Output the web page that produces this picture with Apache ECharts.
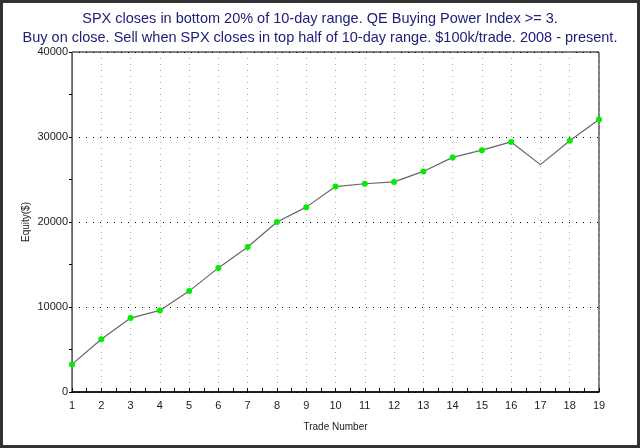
<!DOCTYPE html>
<html>
<head>
<meta charset="utf-8">
<script src="https://cdn.jsdelivr.net/npm/echarts@6/dist/echarts.min.js"></script>
<style>
  html, body { margin: 0; padding: 0; background: #fff; }
  #chart { width: 640px; height: 448px; box-sizing: border-box; border: 3px solid #333; }
</style>
</head>
<body>
<div id="chart"></div>
<script>
const titleLines = [
  'SPX closes in bottom 20% of 10-day range. QE Buying Power Index >= 3.',
  'Buy on close. Sell when SPX closes in top half of 10-day range. $100k/trade. 2008 - present.'
];
const trades = [1, 2, 3, 4, 5, 6, 7, 8, 9, 10, 11, 12, 13, 14, 15, 16, 17, 18, 19];
const equity = [3250, 6200, 8700, 9600, 11870, 14600, 17050, 20000, 21750, 24170, 24500, 24720,
  25950, 27600, 28450, 29420, 26750, 29550, 32050];
// trades drawn without a marker
const noMarker = [17];
const yTicks = [0, 10000, 20000, 30000, 40000];

const getOption = () => {
  const points = trades.map((t, i) => {
    const item = { value: [t, equity[i]] };
    if (noMarker.includes(t)) item.symbol = 'none';
    return item;
  });
  const labelFont = { fontFamily: 'Liberation Sans', fontSize: 11, color: '#222' };

  return {
    animation: false,
    backgroundColor: '#fff',
    title: {
      text: titleLines.join('\n'),
      left: 'center',
      top: 1,
      textStyle: {
        fontFamily: 'Liberation Sans',
        fontWeight: 'normal',
        fontSize: 14.5,
        lineHeight: 19,
        color: '#20207a'
      }
    },
    grid: {
      left: 69,
      right: 38,
      top: 49,
      bottom: 53,
      show: true,
      borderColor: '#000',
      borderWidth: 1
    },
    xAxis: {
      type: 'value',
      min: trades[0],
      max: trades[trades.length - 1],
      interval: 1,
      name: 'Trade Number',
      nameLocation: 'middle',
      nameGap: 30,
      nameTextStyle: { fontFamily: 'Liberation Sans', fontSize: 10, color: '#222' },
      axisLine: { lineStyle: { color: '#000', width: 1.5 } },
      axisTick: { show: true, inside: true, length: 4, lineStyle: { color: '#000' } },
      minorTick: { show: true, splitNumber: 2, length: 4, lineStyle: { color: '#000' } },
      axisLabel: Object.assign({ margin: 8 }, labelFont),
      splitLine: { show: true, lineStyle: { color: '#aaa', type: [1, 5] } }
    },
    yAxis: {
      type: 'value',
      min: yTicks[0],
      max: yTicks[yTicks.length - 1],
      interval: 10000,
      name: 'Equity($)',
      nameLocation: 'middle',
      nameGap: 41,
      nameMoveOverlap: false,
      nameTextStyle: { fontFamily: 'Liberation Sans', fontSize: 10, color: '#222' },
      axisLine: { show: true, lineStyle: { color: '#666', width: 1 } },
      axisTick: { show: true, length: 3, lineStyle: { color: '#000' } },
      minorTick: { show: true, splitNumber: 2, length: 3, lineStyle: { color: '#000' } },
      axisLabel: Object.assign({ margin: 4, formatter: (v) => String(v) }, labelFont),
      splitLine: { show: true, lineStyle: { color: '#000', type: [1, 6] } }
    },
    series: [
      {
        type: 'line',
        data: points,
        symbol: 'circle',
        symbolSize: 6,
        itemStyle: { color: '#00ee00' },
        lineStyle: { color: '#666', width: 1.2 }
      }
    ]
  };
};

const chart = echarts.init(document.getElementById('chart'));
chart.setOption(getOption());
</script>
</body>
</html>
